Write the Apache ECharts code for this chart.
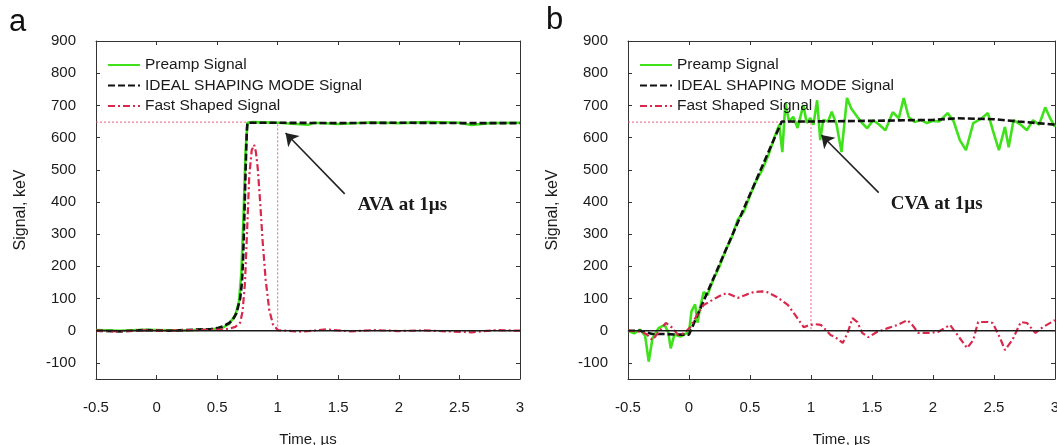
<!DOCTYPE html>
<html>
<head>
<meta charset="utf-8">
<script src="https://cdn.jsdelivr.net/npm/echarts@6/dist/echarts.min.js"></script>
<style>
  html, body { margin: 0; padding: 0; background: #ffffff; }
  #chart { width: 1057px; height: 445px; }
</style>
</head>
<body>
<div id="chart"></div>
<script>
// ---- axis ticks ----
const timeTicks = [-0.5, 0, 0.5, 1, 1.5, 2, 2.5, 3];
const signalTicks = [-100, 0, 100, 200, 300, 400, 500, 600, 700, 800, 900];

// ---- panel a: AVA ----
const tPreampA = [-0.5, -0.3, -0.1, 0.1, 0.3, 0.45, 0.55, 0.6, 0.65, 0.68, 0.7, 0.72, 0.735, 0.75, 0.8, 1.0, 1.25, 1.3, 1.5, 1.75, 2.0, 2.25, 2.5, 2.6, 2.75, 3.0];
const vPreampA = [2, 0, 3, 1, 2, 4, 10, 22, 48, 90, 180, 380, 560, 646, 648, 646, 640, 646, 642, 647, 645, 648, 646, 639, 645, 646];

const tIdealA = [-0.5, -0.3, -0.1, 0.1, 0.3, 0.45, 0.5, 0.55, 0.6, 0.63, 0.66, 0.69, 0.705, 0.715, 0.725, 0.735, 0.745, 0.75, 1.0, 1.5, 2.0, 2.5, 3.0];
const vIdealA = [0, -2, 2, 0, 3, 5, 8, 14, 24, 35, 55, 100, 150, 230, 360, 500, 620, 646, 646, 645, 646, 645, 645];

const tFastA = [-0.5, -0.3, -0.1, 0.1, 0.3, 0.5, 0.6, 0.65, 0.69, 0.71, 0.73, 0.745, 0.765, 0.785, 0.805, 0.82, 0.835, 0.855, 0.875, 0.9, 0.93, 0.96, 1.0, 1.2, 1.4, 1.6, 1.8, 2.0, 2.2, 2.4, 2.6, 2.8, 3.0];
const vFastA = [0, -2, 1, 0, 2, 3, 6, 12, 25, 60, 150, 290, 480, 560, 578, 555, 505, 400, 280, 160, 65, 20, 2, -3, 4, -2, 2, -1, 1, -2, -5, 2, 0];

// ---- panel b: CVA ----
const tPreampB = [-0.5, -0.45, -0.4, -0.36, -0.33, -0.3, -0.25, -0.2, -0.17, -0.15, -0.12, -0.07, -0.03, 0.0, 0.02, 0.05, 0.07, 0.09, 0.12, 0.15, 0.2, 0.25, 0.3, 0.35, 0.4, 0.45, 0.5, 0.55, 0.6, 0.65, 0.7, 0.74, 0.765, 0.79, 0.82, 0.855, 0.89, 0.937, 0.965, 0.994, 1.02, 1.05, 1.076, 1.1, 1.14, 1.17, 1.21, 1.25, 1.295, 1.33, 1.38, 1.42, 1.46, 1.51, 1.56, 1.61, 1.67, 1.72, 1.76, 1.8, 1.85, 1.9, 1.95, 2.0, 2.05, 2.12, 2.17, 2.22, 2.27, 2.33, 2.4, 2.45, 2.49, 2.54, 2.59, 2.62, 2.66, 2.72, 2.77, 2.82, 2.87, 2.92, 2.96, 3.0];
const vPreampB = [0, -8, 3, -15, -96, -25, 8, 18, -5, -55, -12, -18, -10, -5, 60, 82, 25, 70, 120, 110, 160, 200, 250, 290, 345, 370, 420, 465, 500, 545, 600, 640, 555, 707, 650, 664, 630, 701, 645, 661, 640, 716, 592, 655, 650, 680, 640, 555, 723, 690, 664, 645, 629, 654, 640, 623, 679, 660, 723, 664, 648, 655, 645, 652, 650, 676, 650, 592, 561, 645, 660, 676, 623, 561, 633, 570, 654, 640, 623, 654, 640, 694, 660, 633];

const tIdealB = [-0.5, -0.4, -0.35, -0.3, -0.2, -0.1, 0.0, 0.76, 1.0, 1.5, 2.0, 2.2, 2.5, 2.7, 3.0];
const vIdealB = [0, 0, -5, -10, -10, -12, -12, 650, 650, 652, 655, 660, 657, 650, 640];

const tFastB = [-0.5, -0.4, -0.35, -0.3, -0.25, -0.19, -0.14, -0.09, -0.04, 0.01, 0.06, 0.12, 0.19, 0.25, 0.31, 0.4, 0.47, 0.53, 0.6, 0.64, 0.72, 0.81, 0.87, 0.94, 0.99, 1.04, 1.08, 1.1, 1.16, 1.2, 1.26, 1.3, 1.34, 1.38, 1.42, 1.47, 1.54, 1.63, 1.71, 1.79, 1.83, 1.88, 1.96, 2.04, 2.14, 2.2, 2.28, 2.33, 2.37, 2.45, 2.49, 2.55, 2.59, 2.65, 2.72, 2.77, 2.84, 2.9, 3.0];
const vFastB = [0, -3, -10, -29, -5, 24, 10, -13, -8, 11, 45, 80, 95, 108, 117, 102, 112, 120, 122, 120, 105, 80, 49, 11, 18, 20, 18, 11, -13, -20, -38, -7, 39, 27, -7, -20, -4, 8, 18, 33, 18, -7, -7, -4, 18, -13, -54, -29, 27, 27, 24, -23, -60, -29, 27, 24, -7, 11, 33];

// ---- 1 µs reference guides and callouts ----
const plateauLevel = 648;
const guideTime = 1;
const calloutText = ['AVA at 1µs', 'CVA at 1µs'];
const arrowTail = [[1.553, 425], [1.555, 429]];
const arrowHead = [[1.065, 614], [1.085, 608]];
const textAnchor = [[2.03, 390], [2.03, 393]];

const SERIES_NAMES = ['Preamp Signal', 'IDEAL SHAPING MODE Signal', 'Fast Shaped Signal'];
const zip = (ts, vs) => ts.map((t, i) => [t, vs[i]]);

const AXIS_COLOR = '#333';
const TEXT_COLOR = '#1a1a1a';
const SANS = '"Liberation Sans", Arial, sans-serif';
const SERIF = '"Liberation Serif", "Times New Roman", serif';

const grids = [
  { left: 96, top: 41, width: 424, height: 338, outerBoundsMode: 'none', containLabel: false },
  { left: 628, top: 41, width: 427, height: 338, outerBoundsMode: 'none', containLabel: false }
];

function xAxisFor(gridIndex, position) {
  const main = position === 'bottom';
  return {
    type: 'value', gridIndex, position,
    min: -0.5, max: 3,
    name: main ? 'Time, µs' : '',
    nameLocation: 'middle', nameGap: 53,
    nameTextStyle: { fontFamily: SANS, fontSize: 15, color: TEXT_COLOR },
    axisLine: { show: true, onZero: false, lineStyle: { color: AXIS_COLOR, width: 1 } },
    axisTick: { show: true, inside: true, length: 4, customValues: timeTicks, lineStyle: { color: AXIS_COLOR } },
    axisLabel: { show: main, customValues: timeTicks, margin: 21, fontFamily: SANS, fontSize: 15, color: TEXT_COLOR,
                 formatter: v => String(v) },
    splitLine: { show: false }
  };
}

function yAxisFor(gridIndex, position) {
  const main = position === 'left';
  return {
    type: 'value', gridIndex, position,
    min: -150, max: 900,
    name: main ? 'Signal, keV' : '',
    nameLocation: 'middle', nameGap: 67, nameRotate: 90,
    nameTextStyle: { fontFamily: SANS, fontSize: 16, color: TEXT_COLOR },
    axisLine: { show: true, onZero: false, lineStyle: { color: AXIS_COLOR, width: 1 } },
    axisTick: { show: true, inside: true, length: 4, customValues: signalTicks, lineStyle: { color: AXIS_COLOR } },
    axisLabel: { show: main, customValues: signalTicks, margin: 20, fontFamily: SANS, fontSize: 15, color: TEXT_COLOR },
    splitLine: { show: false }
  };
}

function panelSeries(p, preamp, ideal, fast) {
  const axes = { xAxisIndex: p * 2, yAxisIndex: p * 2 };
  return [
    Object.assign({
      type: 'line', name: 'guide-' + p, symbol: 'none', silent: true, z: 1,
      data: [[-0.5, plateauLevel], [guideTime, plateauLevel], [guideTime, 0]],
      lineStyle: { color: '#ec5a80', width: 1, type: [2, 2] }
    }, axes),
    Object.assign({
      type: 'line', name: SERIES_NAMES[0], symbol: 'none', z: 2, data: preamp,
      lineStyle: { color: '#3fe21a', width: 2.6 }, itemStyle: { color: '#3fe21a' }
    }, axes),
    Object.assign({
      type: 'line', name: SERIES_NAMES[1], symbol: 'none', z: 3, data: ideal,
      lineStyle: { color: '#111111', width: 2.6, type: [7, 3] }, itemStyle: { color: '#111111' }
    }, axes),
    Object.assign({
      type: 'line', name: SERIES_NAMES[2], symbol: 'none', z: 4, data: fast,
      lineStyle: { color: '#d8284c', width: 2.2, type: [7, 3, 2, 3] }, itemStyle: { color: '#d8284c' }
    }, axes),
    Object.assign({
      type: 'line', name: 'zero-' + p, symbol: 'none', silent: true, z: 5,
      data: [[-0.5, 0], [3, 0]],
      lineStyle: { color: '#1a1a1a', width: 1.4 },
      markLine: {
        silent: true, symbol: ['none', 'arrow'], symbolSize: 12,
        label: { show: false },
        lineStyle: { color: '#222222', width: 1.6, type: 'solid' },
        data: [[{ coord: arrowTail[p], symbol: 'none' }, { coord: arrowHead[p], symbol: 'arrow', symbolSize: 12 }]]
      },
      markPoint: {
        silent: true, symbol: 'rect', symbolSize: 1,
        itemStyle: { color: 'rgba(0,0,0,0)' },
        label: { show: true, position: 'inside', formatter: calloutText[p],
                 fontFamily: SERIF, fontWeight: 'bold', fontSize: 19, color: '#1a1a1a' },
        data: [{ coord: textAnchor[p] }]
      }
    }, axes)
  ];
}

function legendFor(left) {
  return {
    data: SERIES_NAMES, orient: 'vertical', left, top: 52,
    itemWidth: 32, itemHeight: 14, itemGap: 4.5,
    selectedMode: false,
    itemStyle: { opacity: 0 },
    textStyle: { fontFamily: SANS, fontSize: 15.5, lineHeight: 16, color: TEXT_COLOR }
  };
}

const chart = echarts.init(document.getElementById('chart'), null, { renderer: 'canvas' });
chart.setOption({
  animation: false,
  backgroundColor: '#ffffff',
  grid: grids,
  xAxis: [xAxisFor(0, 'bottom'), xAxisFor(0, 'top'), xAxisFor(1, 'bottom'), xAxisFor(1, 'top')],
  yAxis: [yAxisFor(0, 'left'), yAxisFor(0, 'right'), yAxisFor(1, 'left'), yAxisFor(1, 'right')],
  legend: [legendFor(102), legendFor(634)],
  graphic: [
    { type: 'text', left: 9, top: 7, style: { text: 'a', fontFamily: SANS, fontSize: 31, fill: '#111' } },
    { type: 'text', left: 546, top: 5, style: { text: 'b', fontFamily: SANS, fontSize: 31, fill: '#111' } }
  ],
  series: [
    ...panelSeries(0, zip(tPreampA, vPreampA), zip(tIdealA, vIdealA), zip(tFastA, vFastA)),
    ...panelSeries(1, zip(tPreampB, vPreampB), zip(tIdealB, vIdealB), zip(tFastB, vFastB))
  ]
});
</script>
</body>
</html>
